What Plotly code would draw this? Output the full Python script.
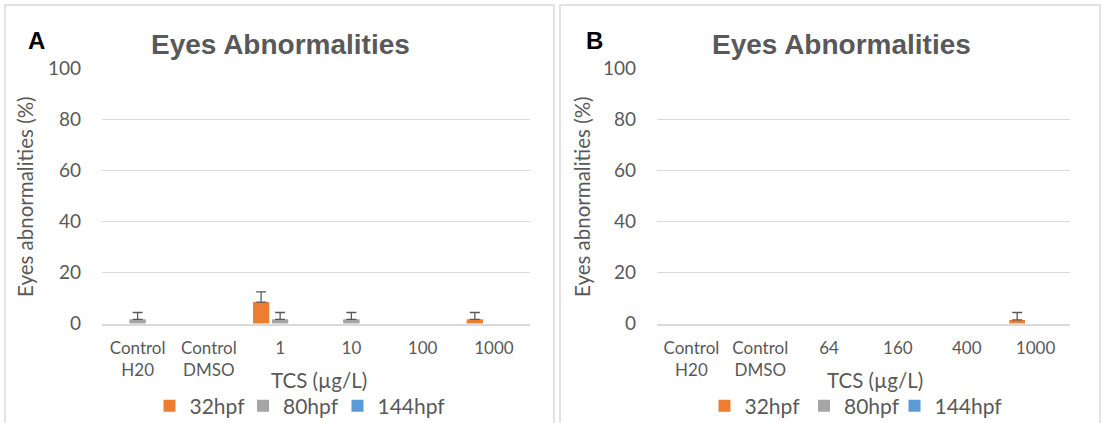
import plotly.graph_objects as go

# ---------------- data ----------------
categories_a = ["Control<br>H20", "Control<br>DMSO", "1", "10", "100", "1000"]
categories_b = ["Control<br>H20", "Control<br>DMSO", "64", "160", "400", "1000"]
series_names = ["32hpf", "80hpf", "144hpf"]

a_32 = [0, 0, 8.4, 0, 0, 1.6]
a_32_err = [None, None, 4.0, None, None, 2.7]
a_80 = [1.6, 0, 1.6, 1.6, 0, 0]
a_80_err = [2.7, None, 2.7, 2.7, None, None]
a_144 = [0, 0, 0, 0, 0, 0]
a_144_err = [None, None, None, None, None, None]

b_32 = [0, 0, 0, 0, 0, 1.4]
b_32_err = [None, None, None, None, None, 2.9]
b_80 = [0, 0, 0, 0, 0, 0]
b_80_err = [None, None, None, None, None, None]
b_144 = [0, 0, 0, 0, 0, 0]
b_144_err = [None, None, None, None, None, None]

y_ticks = [0, 20, 40, 60, 80, 100]

# ---------------- styling ----------------
W, H = 1105, 423
colors = ["#ED7D31", "#A5A5A5", "#5B9BD5"]
GRAY_TXT = "#595959"
GRID = "#D9D9D9"
TXT_FONT = "Lato"
BAR_W = 0.225          # bar width, in category units
BAR_PITCH = 0.267      # distance between bar centres inside a group


def px(x):
    return x / W


def py(y):
    return 1 - y / H


fig = go.Figure()

# one legend per entry so each legend entry can be placed like the original
legend_x = {
    0: [149.5, 243, 337.5],   # panel A
    1: [704.5, 804, 894.5],   # panel B
}

panels = [
    dict(cats=categories_a, vals=[a_32, a_80, a_144], errs=[a_32_err, a_80_err, a_144_err],
         xa="x", ya="y"),
    dict(cats=categories_b, vals=[b_32, b_80, b_144], errs=[b_32_err, b_80_err, b_144_err],
         xa="x2", ya="y2"),
]

legend_layouts = {}
leg_n = 0
for pi, p in enumerate(panels):
    for k, (name, vals, errs, col) in enumerate(zip(series_names, p["vals"], p["errs"], colors)):
        leg_n += 1
        leg_id = "legend" if leg_n == 1 else f"legend{leg_n}"
        legend_layouts[leg_id] = dict(
            orientation="h", yanchor="middle", xanchor="left",
            x=px(legend_x[pi][k]), y=py(406),
            font=dict(family=TXT_FONT, size=21, color=GRAY_TXT),
            itemwidth=30, bgcolor="rgba(0,0,0,0)", borderwidth=0,
        )
        offset = (k - 1) * BAR_PITCH - BAR_W / 2
        # the bars themselves
        fig.add_trace(go.Bar(
            x=p["cats"], y=vals, name=name, width=BAR_W, offset=offset,
            marker=dict(color=col, line=dict(width=0)),
            xaxis=p["xa"], yaxis=p["ya"], legend=leg_id,
        ))
        # same bars again, only where an error bar exists, carrying the (plus-only) error bars
        idx = [i for i, e in enumerate(errs) if e is not None]
        if idx:
            fig.add_trace(go.Bar(
                x=[p["cats"][i] for i in idx], y=[vals[i] for i in idx],
                width=BAR_W, offset=offset, showlegend=False, name=name,
                marker=dict(color=col, line=dict(width=0)),
                error_y=dict(type="data", array=[errs[i] for i in idx], symmetric=False,
                             arrayminus=[0] * len(idx), color="#595959",
                             thickness=1.3, width=5),
                xaxis=p["xa"], yaxis=p["ya"], legend=leg_id,
            ))

x_dom_a = [px(102), px(529.5)]
x_dom_b = [px(657), px(1070)]
y_dom = [py(323.5), py(68)]

common_x = dict(showgrid=False, showline=True, linecolor=GRID, linewidth=2,
                ticks="", tickfont=dict(family=TXT_FONT, size=17, color=GRAY_TXT),
                ticklabelstandoff=8, fixedrange=True, zeroline=False)
common_y = dict(range=[0, 100], tickvals=y_ticks, showgrid=True, gridcolor=GRID,
                gridwidth=1, showline=False, zeroline=False, ticks="",
                tickfont=dict(family=TXT_FONT, size=19, color=GRAY_TXT),
                ticklabelstandoff=20, fixedrange=True)

fig.update_layout(
    width=W, height=H,
    margin=dict(l=0, r=0, t=0, b=0, autoexpand=False),
    paper_bgcolor="white", plot_bgcolor="white",
    barmode="overlay",
    xaxis=dict(domain=x_dom_a, anchor="y", **common_x),
    yaxis=dict(domain=y_dom, anchor="x", **common_y),
    xaxis2=dict(domain=x_dom_b, anchor="y2", **common_x),
    yaxis2=dict(domain=y_dom, anchor="x2", **common_y),
    showlegend=True,
    **legend_layouts,
)

# panel borders
for x0, x1 in [(5, 554), (560, 1100)]:
    fig.add_shape(type="rect", xref="paper", yref="paper",
                  x0=px(x0), x1=px(x1), y0=py(440), y1=py(5),
                  line=dict(color=GRID, width=1.5), fillcolor="rgba(0,0,0,0)", layer="below")

ann = []
for letter, lx, tx, ytx, xtx in [("A", 36.5, 280.5, 25, 319), ("B", 594, 841, 582, 875)]:
    ann.append(dict(text=letter, x=px(lx), y=py(40), xref="paper", yref="paper",
                    showarrow=False, xanchor="center", yanchor="middle",
                    font=dict(family="Liberation Sans", size=24, color="black", weight="bold")))
    ann.append(dict(text="Eyes Abnormalities", x=px(tx), y=py(44), xref="paper", yref="paper",
                    showarrow=False, xanchor="center", yanchor="middle",
                    font=dict(family="Liberation Sans", size=28, color=GRAY_TXT, weight="bold")))
    ann.append(dict(text="Eyes abnormalities (%)", x=px(ytx), y=py(197), xref="paper", yref="paper",
                    showarrow=False, xanchor="center", yanchor="middle", textangle=-90,
                    font=dict(family=TXT_FONT, size=20.5, color=GRAY_TXT)))
    ann.append(dict(text="TCS (µg/L)", x=px(xtx), y=py(380), xref="paper", yref="paper",
                    showarrow=False, xanchor="center", yanchor="middle",
                    font=dict(family=TXT_FONT, size=20.5, color=GRAY_TXT)))
fig.update_layout(annotations=ann)

fig.write_html("out.html")
